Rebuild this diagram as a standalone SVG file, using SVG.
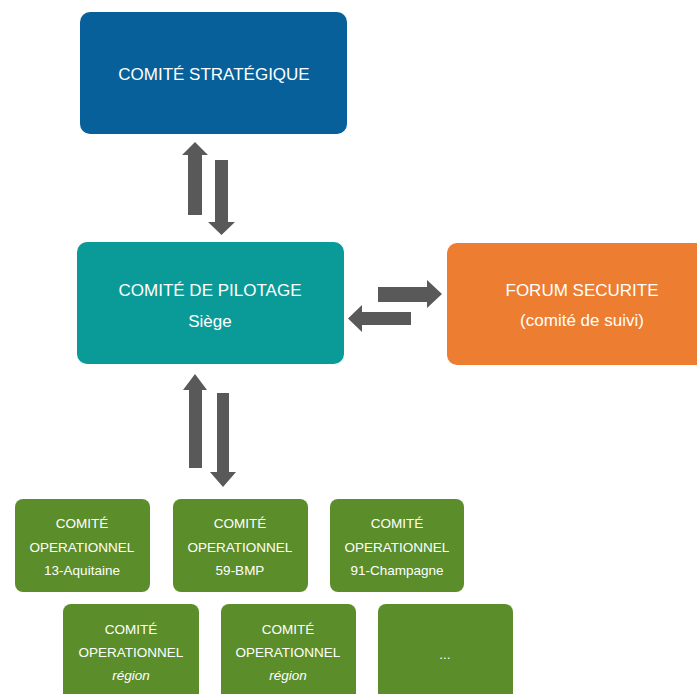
<svg xmlns="http://www.w3.org/2000/svg" width="697" height="694" viewBox="0 0 697 694">
<style>
.t{font-family:"Liberation Sans",Arial,sans-serif;fill:#fff;text-anchor:middle}
.big{font-size:17px}
.sm{font-size:13.5px}
.arr{fill:#595959}
.g{fill:#5b8e2a}
</style>
<rect width="697" height="694" fill="#fff"/>
<g id="strategique">
<rect x="80" y="12" width="267" height="122" rx="10" fill="#07609a"/>
<text class="t big" x="214" y="80">COMITÉ STRATÉGIQUE</text>
</g>
<g id="pilotage">
<rect x="77" y="242" width="267" height="122" rx="10" fill="#0a9b98"/>
<text class="t big" x="210" y="296">COMITÉ DE PILOTAGE</text>
<text class="t big" x="210" y="327">Siège</text>
</g>
<g id="forum">
<rect x="447" y="243" width="262" height="122" rx="10" fill="#ed7d31"/>
<text class="t big" x="582" y="296">FORUM SECURITE</text>
<text class="t big" x="582" y="326">(comité de suivi)</text>
</g>
<g id="op1">
<rect class="g" x="15" y="499" width="135" height="93" rx="8"/>
<text class="t sm" x="82" y="528">COMITÉ</text>
<text class="t sm" x="82" y="552">OPERATIONNEL</text>
<text class="t sm" x="82" y="575">13-Aquitaine</text>
</g>
<g id="op2">
<rect class="g" x="173" y="499" width="135" height="93" rx="8"/>
<text class="t sm" x="240" y="528">COMITÉ</text>
<text class="t sm" x="240" y="552">OPERATIONNEL</text>
<text class="t sm" x="240" y="575">59-BMP</text>
</g>
<g id="op3">
<rect class="g" x="330" y="499" width="134" height="93" rx="8"/>
<text class="t sm" x="397" y="528">COMITÉ</text>
<text class="t sm" x="397" y="552">OPERATIONNEL</text>
<text class="t sm" x="397" y="575">91-Champagne</text>
</g>
<g id="op4">
<rect class="g" x="63" y="604" width="136" height="100" rx="8"/>
<text class="t sm" x="131" y="634">COMITÉ</text>
<text class="t sm" x="131" y="657">OPERATIONNEL</text>
<text class="t sm" x="131" y="680" font-style="italic">région</text>
</g>
<g id="op5">
<rect class="g" x="221" y="604" width="135" height="100" rx="8"/>
<text class="t sm" x="288" y="634">COMITÉ</text>
<text class="t sm" x="288" y="657">OPERATIONNEL</text>
<text class="t sm" x="288" y="680" font-style="italic">région</text>
</g>
<g id="op6">
<rect class="g" x="378" y="604" width="135" height="100" rx="8"/>
<text class="t sm" x="445" y="659">...</text>
</g>
<g id="connectors">
<polygon class="arr" points="188,215 188,155 182,155 195,142 208,155 202,155 202,215"/>
<polygon class="arr" points="215,160 228,160 228,222 235,222 221.5,235 208,222 215,222"/>
<polygon class="arr" points="378,287 427,287 427,280 442,294 427,308 427,302 378,302"/>
<polygon class="arr" points="411,312 362,312 362,305 348,318.5 362,332 362,325 411,325"/>
<polygon class="arr" points="189,468 189,390 183,390 195,374 207,390 202,390 202,468"/>
<polygon class="arr" points="217,393 229,393 229,472 236,472 223,487 210,472 217,472"/>
</g>
</svg>
